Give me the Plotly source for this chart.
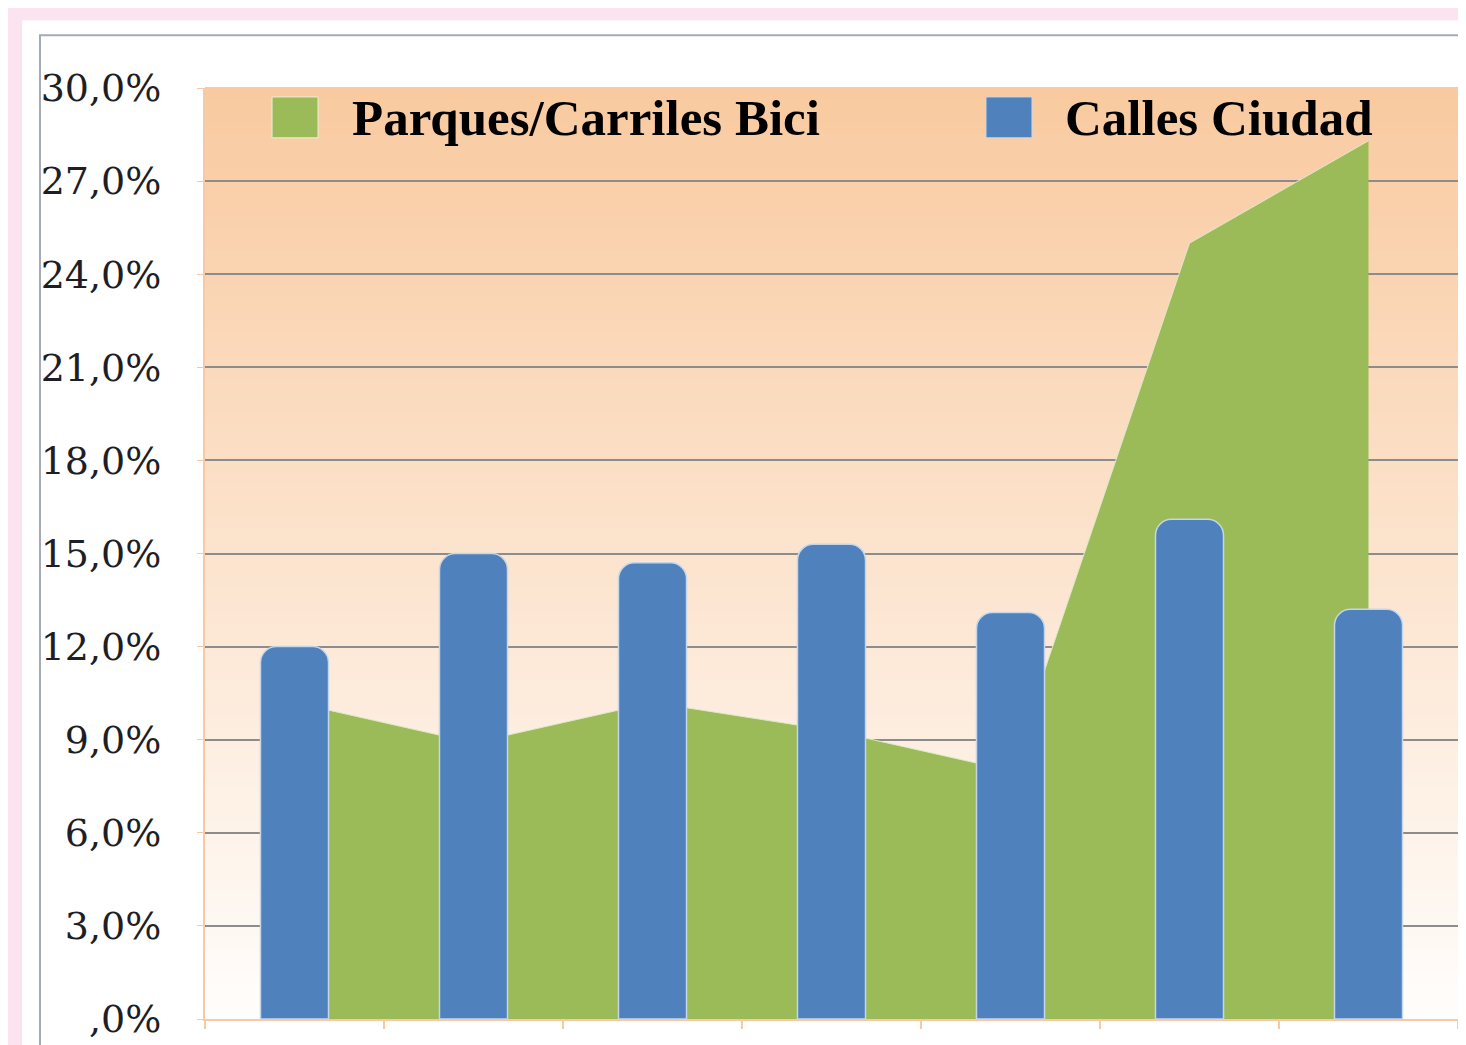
import plotly.graph_objects as go

# data (percent)
categories = ["1", "2", "3", "4", "5", "6", "7"]
parques = [10.2, 8.9, 10.2, 9.3, 8.0, 25.0, 28.3]
calles = [12.0, 15.0, 14.7, 15.3, 13.1, 16.1, 13.2]
names = ["Parques/Carriles Bici", "Calles Ciudad"]
ytick_vals = [0, 3, 6, 9, 12, 15, 18, 21, 24, 27, 30]
ytick_text = [",0%", "3,0%", "6,0%", "9,0%", "12,0%", "15,0%", "18,0%",
              "21,0%", "24,0%", "27,0%", "30,0%"]

green = "#9bbb59"
blue = "#4f81bd"
orange_line = "#f8c9a6"

fig = go.Figure()
fig.add_trace(go.Scatter(x=categories, y=parques, name=names[0], mode="lines",
                         fill="tozeroy", fillcolor=green,
                         line=dict(color="#dfe9c9", width=1),
                         yaxis="y", showlegend=False))
fig.add_trace(go.Bar(x=categories, y=calles, name=names[1], width=0.38,
                     marker=dict(color=blue, cornerradius=16,
                                 line=dict(color="#c6d6ea", width=1.5)),
                     yaxis="y2", showlegend=False))

# background: pink page, white chart area with grey border, gradient plot area
shapes = [
    dict(type="rect", xref="paper", yref="paper", x0=-0.146, x1=1.05,
         y0=-0.1, y1=1.0728, fillcolor="white", line_width=0, layer="below"),
    dict(type="rect", xref="paper", yref="paper", x0=-0.1317, x1=1.05,
         y0=-0.1, y1=1.0567, fillcolor="rgba(0,0,0,0)",
         line=dict(color="#a3abbb", width=2), layer="below"),
]
n = 80
top = (249, 202, 160)
bot = (255, 253, 251)
for i in range(n):
    t = i / (n - 1)
    c = tuple(round(top[k] + (bot[k] - top[k]) * t) for k in range(3))
    shapes.append(dict(type="rect", xref="paper", yref="paper", x0=0, x1=1,
                       y0=1 - (i + 1) / n, y1=1 - i / n + 0.001,
                       fillcolor="rgb(%d,%d,%d)" % c, line_width=0,
                       layer="below"))
# legend keys
shapes.append(dict(type="rect", xref="paper", yref="paper", x0=0.0535,
                   x1=0.0902, y0=0.9465, y1=0.9904, fillcolor=green,
                   line=dict(color="#e8efd8", width=1)))
shapes.append(dict(type="rect", xref="paper", yref="paper", x0=0.6233,
                   x1=0.66, y0=0.9465, y1=0.9904, fillcolor=blue,
                   line=dict(color="#c6d6ea", width=1)))

legend_font = dict(family="Liberation Serif", size=51, color="black")
annotations = [
    dict(xref="paper", yref="paper", x=0.1157, y=0.968, xanchor="left",
         yanchor="middle", text="<b>%s</b>" % names[0], showarrow=False,
         font=legend_font),
    dict(xref="paper", yref="paper", x=0.6848, y=0.968, xanchor="left",
         yanchor="middle", text="<b>%s</b>" % names[1], showarrow=False,
         font=legend_font),
]

fig.update_layout(
    width=1466, height=1045,
    margin=dict(l=197, r=16, t=80, b=31),
    paper_bgcolor="#fbe4ef", plot_bgcolor="rgba(0,0,0,0)",
    shapes=shapes, annotations=annotations, bargap=0.62,
    xaxis=dict(type="category", showticklabels=False, ticks="outside",
               tickson="boundaries", ticklen=8, tickcolor=orange_line,
               tickwidth=1.5, showline=True, linecolor=orange_line,
               linewidth=2, showgrid=False, range=[-0.5, 6.5]),
    yaxis=dict(range=[0, 30], tickvals=ytick_vals, ticktext=ytick_text,
               showgrid=True, gridcolor="#8c8c8c", gridwidth=2,
               zeroline=False, showline=True, linecolor=orange_line,
               linewidth=2, ticks="outside", ticklen=6,
               tickcolor=orange_line, ticklabelstandoff=28,
               tickfont=dict(family="DejaVu Serif", size=38,
                             color="#1e1e24")),
    yaxis2=dict(range=[0, 30], overlaying="y", visible=False),
)

fig.write_html("out.html")
